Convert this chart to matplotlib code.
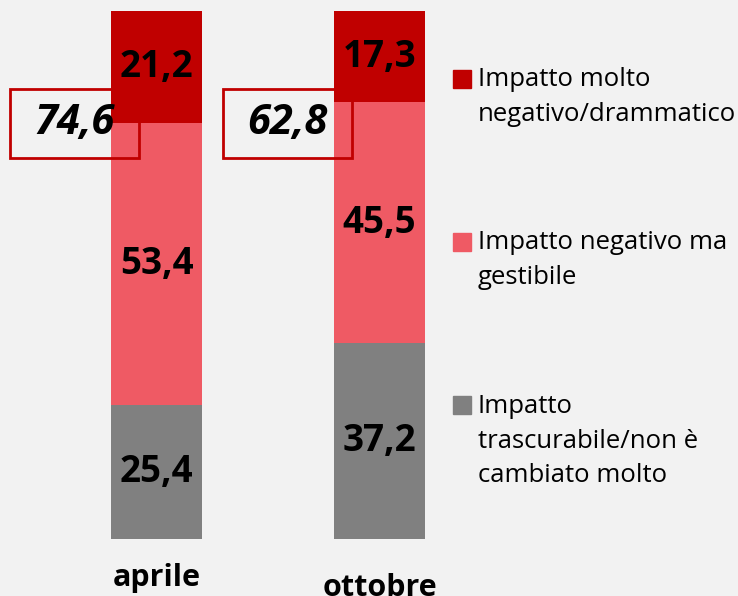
import matplotlib.pyplot as plt
from matplotlib.patches import Rectangle

categories = ["aprile", "ottobre"]
trascurabile = [25.4, 37.2]
gestibile = [53.4, 45.5]
drammatico = [21.2, 17.3]

series_labels = [
    "Impatto molto\nnegativo/drammatico",
    "Impatto negativo ma\ngestibile",
    "Impatto\ntrascurabile/non è\ncambiato molto",
]
colors = ["#C00000", "#EF5A64", "#808080"]

plt.rcParams["font.family"] = ["Open Sans", "DejaVu Sans"]

fig = plt.figure(figsize=(7.38, 5.96), dpi=100, facecolor="#F2F2F2")
ax = fig.add_axes([0, 0, 1, 1])
ax.set_facecolor("#F2F2F2")
ax.set_xlim(-0.702, 2.608)
ax.set_ylim(-10.8, 102.1)
ax.axis("off")

x = [0, 1]
w = 0.408
bottom2 = [a + b for a, b in zip(trascurabile, gestibile)]
ax.bar(x, trascurabile, w, color=colors[2])
ax.bar(x, gestibile, w, bottom=trascurabile, color=colors[1])
ax.bar(x, drammatico, w, bottom=bottom2, color=colors[0])

# value labels in the middle of each segment
for i in x:
    segs = [(0, trascurabile[i]), (trascurabile[i], gestibile[i]), (bottom2[i], drammatico[i])]
    for b, v in segs:
        ax.text(i, b + v / 2, f"{v:.1f}".replace(".", ","), ha="center", va="center",
                fontsize=26.5, fontweight="bold", color="black")

# category labels (ottobre sits a bit lower)
label_y = [-7.4, -9.2]
for i, c in enumerate(categories):
    ax.text(i, label_y[i], c, ha="center", va="center", fontsize=22, fontweight="bold")

# boxes with total of negative impacts
box_x = [-0.368, 0.587]
box_w, box_h = 0.578, 13.1
box_cy = 78.7
for i in x:
    total = gestibile[i] + drammatico[i]
    ax.add_patch(Rectangle((box_x[i] - box_w / 2, box_cy - box_h / 2), box_w, box_h,
                           fill=False, edgecolor="#C00000", lw=2, zorder=5))
    ax.text(box_x[i], box_cy, f"{total:.1f}".replace(".", ","), ha="center", va="center",
            fontsize=30, fontweight="bold", style="italic", zorder=6)

# legend drawn by hand
leg_y = [97, 260, 441]
sq_top = [70, 233, 396]
for lab, col, cy, st in zip(series_labels, colors, leg_y, sq_top):
    fig.patches.append(Rectangle((453 / 738, 1 - (st + 18) / 596), 18 / 738, 18 / 596,
                                 transform=fig.transFigure, color=col))
    fig.text(478 / 738, 1 - cy / 596, lab, ha="left", va="center", fontsize=18.5,
             linespacing=1.5)

plt.savefig("out.png", dpi=100, facecolor=fig.get_facecolor())
